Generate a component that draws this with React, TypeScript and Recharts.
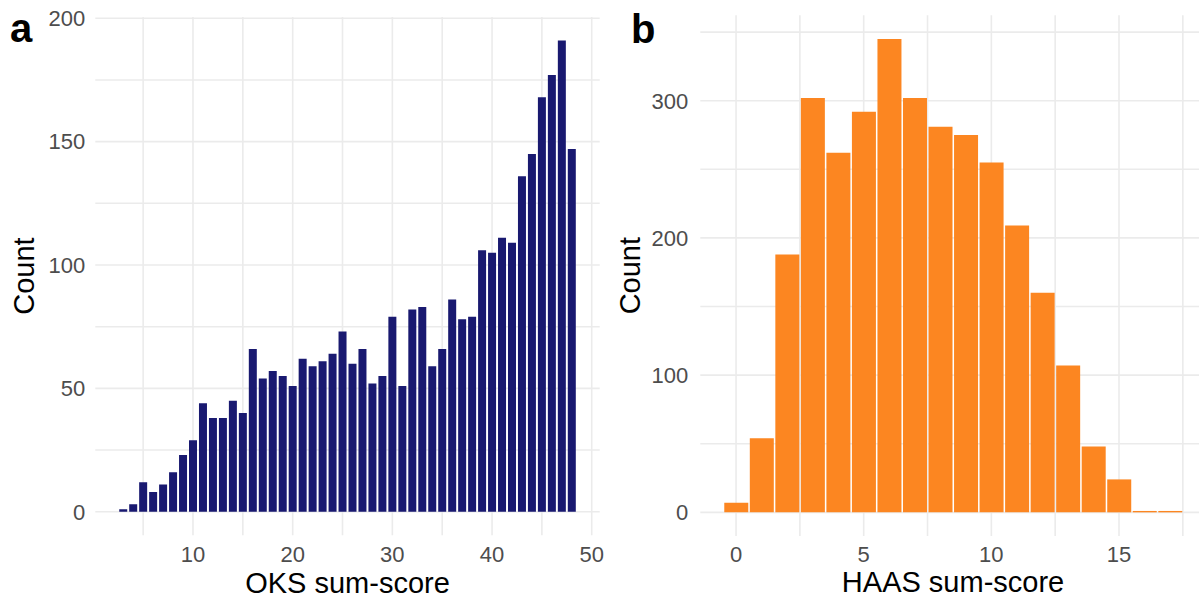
import React from "react";
import {
  BarChart,
  Bar,
  XAxis,
  YAxis,
  CartesianGrid,
} from "recharts";

// panel a: OKS sum-score histogram
const oksScores = [
  3, 4, 5, 6, 7, 8, 9, 10, 11, 12, 13, 14, 15, 16, 17, 18, 19, 20, 21, 22, 23,
  24, 25, 26, 27, 28, 29, 30, 31, 32, 33, 34, 35, 36, 37, 38, 39, 40, 41, 42,
  43, 44, 45, 46, 47, 48,
];
const oksCounts = [
  1, 3, 12, 8, 11, 16, 23, 29, 44, 38, 38, 45, 40, 66, 54, 57, 55, 51, 62, 59,
  61, 64, 73, 60, 66, 52, 55, 79, 51, 82, 83, 59, 66, 86, 78, 79, 106, 105, 111,
  109, 136, 145, 168, 177, 191, 147,
];
const oksXTicks = [5, 10, 15, 20, 25, 30, 35, 40, 45, 50];
const oksYTicks = [0, 25, 50, 75, 100, 125, 150, 175, 200];

// panel b: HAAS sum-score histogram
const haasScores = [0, 1, 2, 3, 4, 5, 6, 7, 8, 9, 10, 11, 12, 13, 14, 15, 16, 17];
const haasCounts = [
  7, 54, 188, 302, 262, 292, 345, 302, 281, 275, 255, 209, 160, 107, 48, 24, 1, 1,
];
const haasXTicks = [0, 2.5, 5, 7.5, 10, 12.5, 15, 17.5];
const haasYTicks = [0, 50, 100, 150, 200, 250, 300, 350];

const oksData = oksScores.map((s, i) => ({ score: s, count: oksCounts[i] }));
const haasData = haasScores.map((s, i) => ({ score: s, count: haasCounts[i] }));

const FONT = "'Liberation Sans', Arial, Helvetica, sans-serif";
const GRID = "#EBEBEB";
const tickStyle = { fontSize: 22, fill: "#4D4D4D", fontFamily: FONT };
const titleStyle = { fontSize: 29, fill: "#000", fontFamily: FONT };

// show a label only on major ticks, minor ticks keep their grid line
const onlyEvery = (step: number) => (v: number) =>
  Math.abs(v % step) < 1e-9 ? String(v) : "";

export default function App() {
  return (
    <div
      style={{
        position: "absolute",
        left: 0,
        top: 0,
        width: 1199,
        height: 599,
        overflow: "hidden",
        background: "#fff",
        fontFamily: FONT,
      }}
    >
      <div style={{ position: "absolute", left: 0, top: 0 }}>
        <BarChart
          width={610}
          height={599}
          data={oksData}
          margin={{ top: 16.9, right: 10.3, bottom: 0, left: 0 }}
        >
          <CartesianGrid stroke={GRID} strokeWidth={1.6} syncWithTicks />
          <XAxis
            type="number"
            dataKey="score"
            domain={[0.2, 50.8]}
            allowDataOverflow
            ticks={oksXTicks}
            interval={0}
            tickFormatter={onlyEvery(10)}
            axisLine={false}
            tickLine={false}
            tickSize={0}
            tickMargin={11.4}
            height={63.7}
            tick={tickStyle}
            label={{
              value: "OKS sum-score",
              position: "insideBottom",
              offset: 6,
              style: titleStyle,
            }}
          />
          <YAxis
            type="number"
            domain={[-9.55, 200.55]}
            allowDataOverflow
            ticks={oksYTicks}
            interval={0}
            tickFormatter={onlyEvery(50)}
            axisLine={false}
            tickLine={false}
            tickSize={0}
            tickMargin={10}
            width={95.3}
            tick={tickStyle}
            label={{
              value: "Count",
              angle: -90,
              position: "insideLeft",
              offset: 24,
              style: { ...titleStyle, textAnchor: "middle" },
            }}
          />
          <Bar
            dataKey="count"
            fill="#191970"
            barSize={8}
            isAnimationActive={false}
          />
        </BarChart>
      </div>

      <div style={{ position: "absolute", left: 610, top: 0 }}>
        <BarChart
          width={600}
          height={599}
          data={haasData}
          margin={{ top: 15.3, right: 4.2, bottom: 0, left: 0 }}
        >
          <CartesianGrid stroke={GRID} strokeWidth={1.6} syncWithTicks />
          <XAxis
            type="number"
            dataKey="score"
            domain={[-1.4, 18.4]}
            allowDataOverflow
            ticks={haasXTicks}
            interval={0}
            tickFormatter={onlyEvery(5)}
            axisLine={false}
            tickLine={false}
            tickSize={0}
            tickMargin={10.7}
            height={63}
            tick={tickStyle}
            label={{
              value: "HAAS sum-score",
              position: "insideBottom",
              offset: 7,
              style: titleStyle,
            }}
          />
          <YAxis
            type="number"
            domain={[-17.25, 362.25]}
            allowDataOverflow
            ticks={haasYTicks}
            interval={0}
            tickFormatter={onlyEvery(100)}
            axisLine={false}
            tickLine={false}
            tickSize={0}
            tickMargin={12}
            width={90.3}
            tick={tickStyle}
            label={{
              value: "Count",
              angle: -90,
              position: "insideLeft",
              offset: 20,
              style: { ...titleStyle, textAnchor: "middle" },
            }}
          />
          <Bar
            dataKey="count"
            fill="#FC8621"
            barSize={24}
            isAnimationActive={false}
          />
        </BarChart>
      </div>

      <svg
        width={1199}
        height={599}
        style={{ position: "absolute", left: 0, top: 0, pointerEvents: "none" }}
      >
        <text x={10} y={42} fontSize={40} fontWeight="bold" fontFamily={FONT} fill="#000">
          a
        </text>
        <text x={631} y={43} fontSize={40} fontWeight="bold" fontFamily={FONT} fill="#000">
          b
        </text>
      </svg>
    </div>
  );
}
